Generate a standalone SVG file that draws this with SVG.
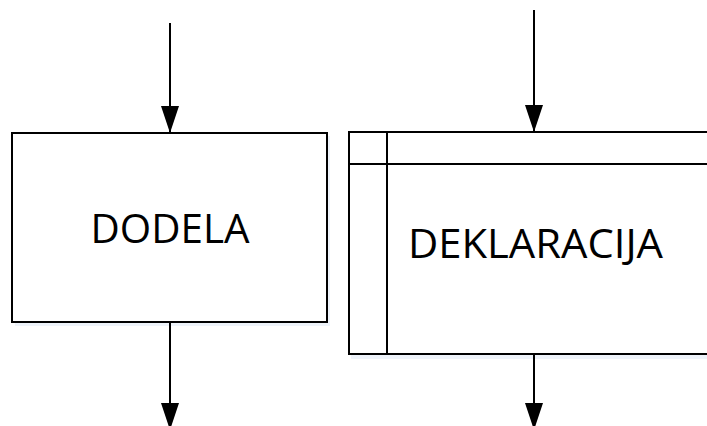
<svg xmlns="http://www.w3.org/2000/svg" width="707" height="426" viewBox="0 0 707 426">
  <style>
    .box { fill: #ffffff; stroke: #000000; stroke-width: 2; }
    .shadow { fill: #eef3fa; }
    .rule { stroke: #000000; stroke-width: 2; fill: none; }
    .flow { stroke: #000000; stroke-width: 2; fill: none; marker-end: url(#head); }
    .label { font-family: "Open Sans", "Liberation Sans", sans-serif; font-size: 41px; fill: #000000; }
  </style>
  <defs>
    <marker id="head" viewBox="0 0 27 18" refX="27" refY="9" markerWidth="27" markerHeight="18" markerUnits="userSpaceOnUse" orient="auto">
      <path d="M0,0 L27,9 L0,18 Z" fill="#000000"/>
    </marker>
  </defs>
  <rect width="707" height="426" fill="#ffffff"/>

  <!-- process box -->
  <g id="dodela">
    <rect class="shadow" x="15" y="136" width="315" height="190"/>
    <rect class="box" x="12" y="133" width="315" height="189"/>
    <text class="label" x="170" y="243" text-anchor="middle" textLength="159" lengthAdjust="spacingAndGlyphs">DODELA</text>
  </g>

  <!-- declaration box (internal storage) -->
  <g id="deklaracija">
    <rect class="shadow" x="351" y="135" width="370" height="224"/>
    <rect class="box" x="349" y="132" width="370" height="222"/>
    <line class="rule" x1="349" y1="164" x2="707" y2="164"/>
    <line class="rule" x1="387" y1="132" x2="387" y2="354"/>
    <text class="label" x="408" y="258" textLength="255" lengthAdjust="spacingAndGlyphs">DEKLARACIJA</text>
  </g>

  <!-- connectors -->
  <g id="connectors">
    <line class="flow" x1="170" y1="23" x2="170" y2="133"/>
    <line class="flow" x1="170" y1="322" x2="170" y2="430"/>
    <line class="flow" x1="534" y1="10" x2="534" y2="132"/>
    <line class="flow" x1="534" y1="354" x2="534" y2="430"/>
  </g>
</svg>
